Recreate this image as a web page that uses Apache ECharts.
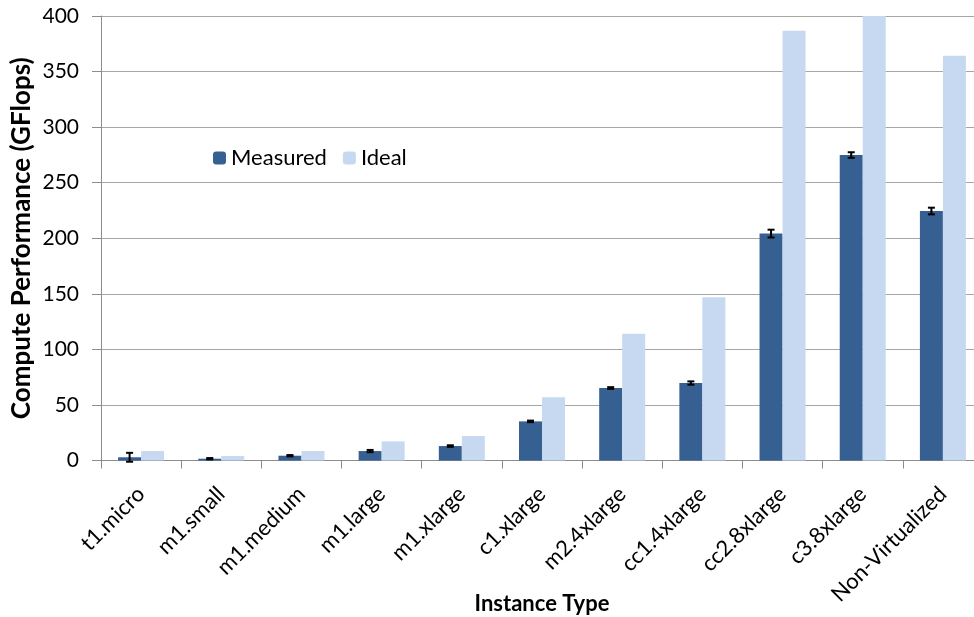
<!DOCTYPE html>
<html><head><meta charset="utf-8">
<script src="https://cdn.jsdelivr.net/npm/echarts@6/dist/echarts.min.js"></script>
<style>html,body{margin:0;padding:0;background:#fff}#c{width:974px;height:617px}</style>
</head><body><div id="c"></div>
<script>
const categories = ["t1.micro","m1.small","m1.medium","m1.large","m1.xlarge","c1.xlarge","m2.4xlarge","cc1.4xlarge","cc2.8xlarge","c3.8xlarge","Non-Virtualized"];
const measured = [2.9, 1.6, 4.3, 8.5, 13, 35.2, 65.2, 69.7, 204.2, 274.9, 224.5];
const measuredErr = [4, 0.6, 0.6, 1, 0.7, 0.7, 0.8, 1.5, 3.5, 2.5, 3];
const ideal = [8.5, 4.0, 8.5, 17.2, 22, 57, 114, 147, 386.7, 400, 364.2];
const yTicks = [0, 50, 100, 150, 200, 250, 300, 350, 400];

const FONT = "Lato";
const chart = echarts.init(document.getElementById('c'));
const errData = categories.map((c, i) => [i, measured[i] - measuredErr[i], measured[i] + measuredErr[i]]);
chart.setOption({
  animation: false,
  textStyle: {fontFamily: FONT},
  grid: {left: 101, right: -9, top: 16, bottom: 156.5, outerBoundsMode: 'none', containLabel: false},
  legend: {
    left: 208, top: 142, itemWidth: 13, itemHeight: 13, itemGap: 16,
    textStyle: {fontFamily: FONT, fontSize: 22, color: '#000'},
    data: ['Measured', 'Ideal']
  },
  xAxis: {
    type: 'category', data: categories,
    name: 'Instance Type', nameLocation: 'middle', nameGap: 132, nameMoveOverlap: false,
    nameTextStyle: {fontFamily: FONT, fontWeight: 'bold', fontSize: 22, color: '#000'},
    axisLine: {lineStyle: {color: '#8c8c8c', width: 1}},
    axisTick: {show: true, length: 8, lineStyle: {color: '#8c8c8c'}},
    axisLabel: {rotate: 45, fontFamily: FONT, fontSize: 22, color: '#000', margin: 30}
  },
  yAxis: {
    type: 'value', min: 0, max: 400, interval: 50,
    name: 'Compute Performance (GFlops)', nameLocation: 'middle', nameGap: 66, nameMoveOverlap: false,
    nameTextStyle: {fontFamily: FONT, fontWeight: 'bold', fontSize: 26, color: '#000'},
    axisLine: {show: true, lineStyle: {color: '#8c8c8c'}},
    axisTick: {show: true, length: 9, lineStyle: {color: '#8c8c8c'}},
    axisLabel: {fontFamily: FONT, fontSize: 21, color: '#000', margin: 22,
      formatter: v => yTicks.includes(v) ? String(v) : ''},
    splitLine: {lineStyle: {color: '#a6a6a6', width: 1}}
  },
  series: [
    {name: 'Measured', type: 'bar', data: measured, barWidth: 23, barGap: '0%',
     itemStyle: {color: '#376092'}},
    {name: 'Ideal', type: 'bar', data: ideal, barWidth: 23, barGap: '0%',
     itemStyle: {color: '#c6d9f1'}},
    {name: 'err', type: 'custom', data: errData, z: 10,
     encode: {x: 0, y: [1, 2]},
     renderItem: function (params, api) {
       const i = api.value(0);
       const lo = api.coord([i, api.value(1)]);
       const hi = api.coord([i, api.value(2)]);
       const x = lo[0] - 11.5;
       const cap = 3.5;
       const st = {stroke: '#000', lineWidth: 2};
       return {type: 'group', children: [
         {type: 'line', shape: {x1: x, y1: lo[1], x2: x, y2: hi[1]}, style: st},
         {type: 'line', shape: {x1: x - cap, y1: lo[1], x2: x + cap, y2: lo[1]}, style: st},
         {type: 'line', shape: {x1: x - cap, y1: hi[1], x2: x + cap, y2: hi[1]}, style: st}
       ]};
     }}
  ]
});
</script></body></html>
